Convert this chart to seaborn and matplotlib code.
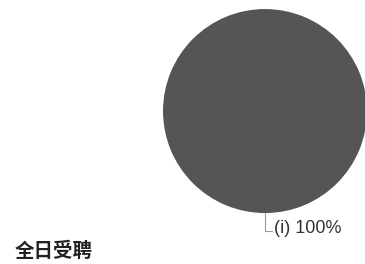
import numpy as np
import matplotlib
matplotlib.use("Agg")
import matplotlib.pyplot as plt
import seaborn as sns

# data
labels = ["(i)"]
shares = [100]
colors = ["#555555"]
title = "全日受聘"

sns.set_theme(style="white")
plt.rcParams['font.family'] = ['Liberation Sans', 'Noto Sans CJK SC', 'DejaVu Sans']

fig = plt.figure(figsize=(3.65, 2.64), dpi=100)
ax = fig.add_axes([0.4466, 0.193, 0.5589, 0.7727])

wedges, _ = ax.pie(shares, colors=colors, startangle=90, counterclock=True,
                   wedgeprops=dict(linewidth=0))
ax.set_xlim(-1, 1)
ax.set_ylim(-1, 1)
ax.set_aspect("equal")
ax.axis("off")

# leader line + label at the middle of each slice
total = sum(shares)
for w, lab, val in zip(wedges, labels, shares):
    ang = np.deg2rad((w.theta1 + w.theta2) / 2)
    x0, y0 = np.cos(ang), np.sin(ang)
    ax.plot([x0, x0, x0 + 0.07], [y0, y0 - 0.18, y0 - 0.18], color="#999999",
            lw=0.8, clip_on=False)
    ax.text(x0 + 0.09, y0 - 0.15, f"{lab} {val / total * 100:.0f}%", ha="left",
            va="center", fontsize=13, color="#333333", clip_on=False)

fig.text(15 / 365, 1 - 251 / 264, title, ha="left", va="center", fontsize=14,
         fontweight="bold", color="#222222",
         family=['Noto Sans CJK SC', 'DejaVu Sans'])

fig.savefig("out.png", dpi=100)
